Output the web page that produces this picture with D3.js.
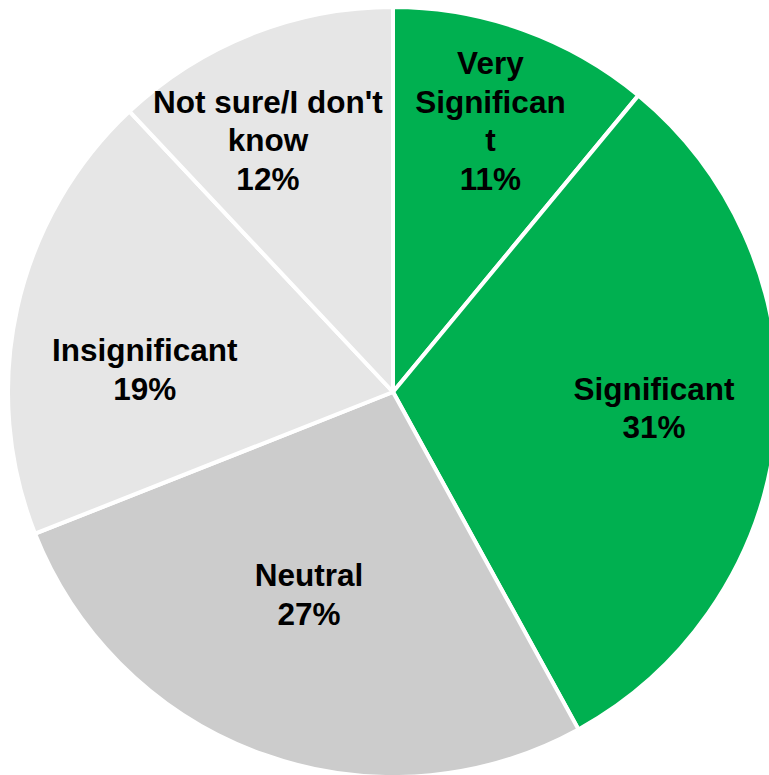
<!DOCTYPE html>
<html>
<head>
<meta charset="utf-8">
<script src="https://cdn.jsdelivr.net/npm/d3@7/dist/d3.min.js"></script>
<style>
  html, body { margin: 0; padding: 0; background: #ffffff; }
  svg { display: block; }
</style>
</head>
<body>
<svg id="chart" width="769" height="775"></svg>
<script>
// Survey answers, clockwise from 12 o'clock
const categories = ["Very Significant", "Significant", "Neutral", "Insignificant", "Not sure/I don't know"];
const values = [11, 31, 27, 19, 12];
const labelLines = [
  ["Very", "Significan", "t"],
  ["Significant"],
  ["Neutral"],
  ["Insignificant"],
  ["Not sure/I don't", "know"]
];
const colors = ["#00B050", "#00B050", "#CCCCCC", "#E6E6E6", "#E6E6E6"];

// Label block centres, in units of the pie radius relative to the centre
const labelSpots = [
  [0.253, -0.705],
  [0.678, 0.040],
  [-0.218, 0.525],
  [-0.645, -0.060],
  [-0.325, -0.655]
];

const width = 769, height = 775;
const cx = 393, cy = 392, radius = 385;
const fontSize = 31.5, lineGap = 38.5;

const svg = d3.select("#chart");
const g = svg.append("g").attr("transform", `translate(${cx},${cy})`);

const pie = d3.pie().sort(null).value(d => d.value);
const arc = d3.arc().innerRadius(0).outerRadius(radius);

const data = categories.map((c, i) => ({ name: c, value: values[i], color: colors[i], lines: labelLines[i], spot: labelSpots[i] }));
const arcs = pie(data);

g.selectAll("path.slice")
  .data(arcs)
  .join("path")
  .attr("class", "slice")
  .attr("d", arc)
  .attr("fill", d => d.data.color)
  .attr("stroke", "#ffffff")
  .attr("stroke-width", 4)
  .attr("stroke-linejoin", "round");

const labels = g.selectAll("text.label")
  .data(arcs)
  .join("text")
  .attr("class", "label")
  .attr("text-anchor", "middle")
  .attr("font-family", "'Liberation Sans', Arial, Helvetica, sans-serif")
  .attr("font-weight", "bold")
  .attr("font-size", fontSize)
  .attr("fill", "#000000");

labels.each(function(d) {
  const lines = d.data.lines.concat([d3.format(".0f")(d.value) + "%"]);
  const x = d.data.spot[0] * radius;
  const yc = d.data.spot[1] * radius;
  const y0 = yc - (lines.length - 1) * lineGap / 2;
  d3.select(this).selectAll("tspan")
    .data(lines)
    .join("tspan")
    .attr("x", x)
    .attr("y", (l, i) => y0 + i * lineGap)
    .attr("dy", "0.36em")
    .text(l => l);
});
</script>
</body>
</html>
